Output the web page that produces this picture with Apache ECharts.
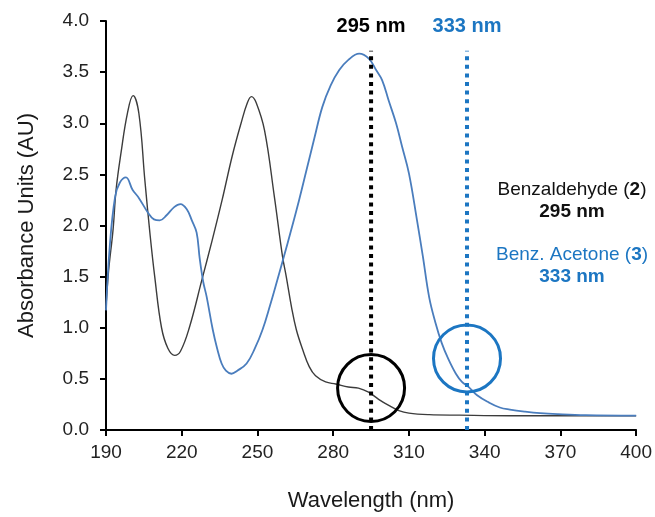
<!DOCTYPE html>
<html>
<head>
<meta charset="utf-8">
<script src="https://cdn.jsdelivr.net/npm/echarts@6/dist/echarts.min.js"></script>
<style>
  html, body { margin: 0; padding: 0; background: #fff; }
  #chart { width: 655px; height: 517px; }
</style>
</head>
<body>
<div id="chart"></div>
<script>
// Benzaldehyde (2) spectrum
const benzNm = [190, 191, 192.8, 194, 196, 198.5, 200.7, 203, 205.4, 207.5, 209.3, 212, 214.5, 217.2, 219.5, 223, 228, 232, 236, 240, 243.5, 246, 247.6, 249.5, 252.8, 256.7, 259.9, 261.4, 263.5, 265.4, 268, 270.5, 273, 277, 281, 286, 290, 294, 298, 302, 306, 310, 318, 330, 350, 400]
const benzAbs = [1.2, 1.55, 1.96, 2.35, 2.72, 3.1, 3.27, 3.1, 2.44, 1.9, 1.5, 1.0, 0.8, 0.73, 0.77, 1.0, 1.47, 1.85, 2.25, 2.68, 3.0, 3.2, 3.26, 3.2, 2.93, 2.28, 1.7, 1.5, 1.2, 0.98, 0.78, 0.62, 0.53, 0.47, 0.45, 0.42, 0.41, 0.37, 0.3, 0.24, 0.19, 0.165, 0.15, 0.145, 0.14, 0.14]

// Benz. Acetone (3) spectrum
const acetNm = [190, 191.5, 193.6, 195.5, 197.9, 200.5, 203, 206.5, 209, 211.3, 214, 217, 219.5, 222, 224, 225.9, 227.1, 228.5, 229.9, 232.3, 234, 235.8, 237.5, 239.7, 242, 245.7, 249, 252, 255, 257.9, 260.5, 263.4, 266.5, 269.5, 272.5, 275.7, 279, 282.4, 286, 290.3, 294.2, 297, 299.4, 302, 304.9, 307.3, 310, 313.2, 315.5, 318, 320.5, 323, 325.5, 328.6, 331, 333.7, 337, 341.6, 346, 350, 356, 362, 369, 380, 400]
const acetAbs = [1.17, 1.8, 2.28, 2.42, 2.47, 2.35, 2.27, 2.13, 2.06, 2.05, 2.1, 2.18, 2.21, 2.16, 2.05, 1.93, 1.68, 1.45, 1.3, 0.98, 0.8, 0.65, 0.58, 0.55, 0.58, 0.65, 0.8, 0.98, 1.22, 1.47, 1.7, 1.96, 2.25, 2.55, 2.85, 3.16, 3.37, 3.52, 3.62, 3.68, 3.63, 3.52, 3.42, 3.22, 3.0, 2.77, 2.51, 2.05, 1.7, 1.3, 1.05, 0.85, 0.7, 0.55, 0.47, 0.42, 0.34, 0.27, 0.22, 0.2, 0.18, 0.165, 0.155, 0.145, 0.14]

// lambda max markers and circled regions
const markNm = [295, 333]
const markTop = 3.71
const markText = ['295 nm', '333 nm']
const circleNm = [295, 333]
const circleAbs = [0.41, 0.7]

const BLACK = '#000000'
const BLUE = '#1c76c2'
const FONT = 'Liberation Sans, Arial, sans-serif'
const markColor = [BLACK, BLUE]

const chart = echarts.init(document.getElementById('chart'))

function pairs(xs, ys) {
  return xs.map((x, i) => [x, ys[i]])
}

function markSeries(i) {
  return {
    type: 'line',
    symbol: 'none',
    silent: true,
    z: 3,
    emphasis: { disabled: true },
    lineStyle: { color: markColor[i], width: 4, type: [4, 4.6], cap: 'butt' },
    data: [[markNm[i], 0], [markNm[i], markTop]]
  }
}

const option = {
  animation: false,
  grid: { left: 106, right: 17, top: 21, bottom: 87 },
  xAxis: {
    type: 'value',
    min: 190,
    max: 400,
    interval: 30,
    name: 'Wavelength (nm)',
    nameLocation: 'middle',
    nameGap: 60,
    nameTextStyle: { fontFamily: FONT, fontSize: 22, color: '#1a1a1a' },
    splitLine: { show: false },
    axisLine: { lineStyle: { color: '#000', width: 2 } },
    axisTick: { show: true, length: 6, lineStyle: { color: '#000', width: 2 } },
    axisLabel: { fontFamily: FONT, fontSize: 19, color: '#222', margin: 13 }
  },
  yAxis: {
    type: 'value',
    min: 0,
    max: 4,
    interval: 0.5,
    name: 'Absorbance Units (AU)',
    nameLocation: 'middle',
    nameGap: 68,
    nameTextStyle: { fontFamily: FONT, fontSize: 22, color: '#1a1a1a' },
    splitLine: { show: false },
    axisLine: { show: true, lineStyle: { color: '#000', width: 2 } },
    axisTick: { show: true, length: 6, lineStyle: { color: '#000', width: 2 } },
    axisLabel: {
      fontFamily: FONT, fontSize: 19, color: '#222', margin: 17,
      formatter: v => v.toFixed(1)
    }
  },
  series: [
    {
      name: 'Benzaldehyde (2)',
      type: 'line',
      symbol: 'none',
      smooth: 0.4,
      z: 2,
      lineStyle: { color: '#3c3c3c', width: 1.4 },
      data: pairs(benzNm, benzAbs)
    },
    {
      name: 'Benz. Acetone (3)',
      type: 'line',
      symbol: 'none',
      smooth: 0.4,
      z: 2,
      lineStyle: { color: '#4a7dbd', width: 1.8 },
      data: pairs(acetNm, acetAbs)
    },
    markSeries(0),
    markSeries(1),
    {
      type: 'scatter',
      silent: true,
      symbol: 'circle',
      symbolSize: 67,
      z: 4,
      data: circleNm.map((x, i) => ({
        value: [x, circleAbs[i]],
        itemStyle: { color: 'transparent', borderColor: markColor[i], borderWidth: 3, opacity: 1 }
      }))
    }
  ]
}

chart.setOption(option)

// labels above the lambda max lines, placed from the data positions
const topLabels = markNm.map((x, i) => {
  const p = chart.convertToPixel({ gridIndex: 0 }, [x, markTop])
  return {
    type: 'text', x: p[0], y: p[1] - 24,
    style: {
      text: markText[i], align: 'center', verticalAlign: 'middle',
      font: 'bold 20px ' + FONT, fill: markColor[i]
    }
  }
})

chart.setOption({
  graphic: topLabels.concat([
    {
      type: 'text', x: 572, y: 190,
      style: {
        text: 'Benzaldehyde ({b|2})',
        align: 'center', verticalAlign: 'middle',
        font: '19px ' + FONT, fill: '#111',
        rich: { b: { fontWeight: 'bold', fontSize: 19, fontFamily: FONT, fill: '#111' } }
      }
    },
    {
      type: 'text', x: 572, y: 212,
      style: {
        text: '295 nm', align: 'center', verticalAlign: 'middle',
        font: 'bold 19px ' + FONT, fill: '#111'
      }
    },
    {
      type: 'text', x: 572, y: 255,
      style: {
        text: 'Benz. Acetone ({b|3})',
        align: 'center', verticalAlign: 'middle',
        font: '19px ' + FONT, fill: BLUE,
        rich: { b: { fontWeight: 'bold', fontSize: 19, fontFamily: FONT, fill: BLUE } }
      }
    },
    {
      type: 'text', x: 572, y: 277,
      style: {
        text: '333 nm', align: 'center', verticalAlign: 'middle',
        font: 'bold 19px ' + FONT, fill: BLUE
      }
    }
  ])
})
</script>
</body>
</html>
